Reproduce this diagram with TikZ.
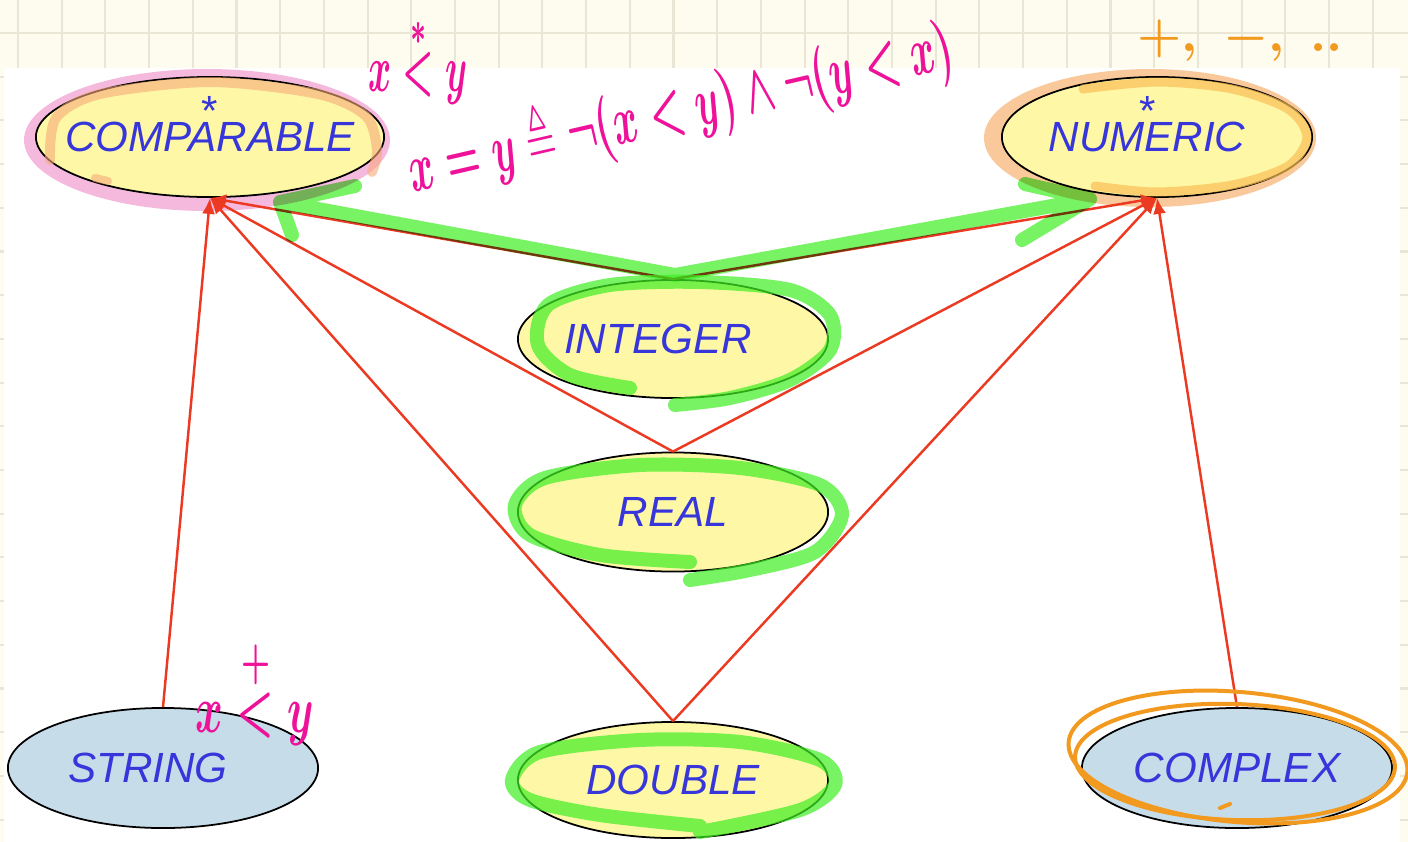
\documentclass[tikz,border=0pt]{standalone}
\usepackage{fontspec}
\usepackage{amssymb}
\usepackage{graphicx}
\usetikzlibrary{arrows.meta,positioning,shapes.geometric}
\newfontfamily\slidefont{Liberation Sans}

\definecolor{paper}{HTML}{FEFCEF}
\definecolor{gridline}{HTML}{E9E6D6}
\definecolor{slideyellow}{HTML}{FEF8A6}
\definecolor{slideblue}{HTML}{C6DCE9}
\definecolor{typeblue}{HTML}{3636DA}
\definecolor{arrowred}{HTML}{EC3A22}
\definecolor{inkpink}{HTML}{EE1199}
\definecolor{inkorange}{HTML}{F29A1F}
\definecolor{markgreen}{HTML}{3EEE22}
\definecolor{pinkhalo}{HTML}{F6B9DE}
\definecolor{salmon}{HTML}{F6A97A}
\definecolor{peachhalo}{HTML}{F9C99C}
\definecolor{deeporange}{HTML}{FBBE55}

\begin{document}
\begin{tikzpicture}[
x=0.01cm, y=-0.01cm,
typebox/.style={
ellipse,
draw=black,
line width=0.5pt,
inner xsep=-0.6cm,
inner ysep=0pt,
minimum width=3.1cm,
minimum height=1.18cm,
text=typeblue,
font=\slidefont\itshape\fontsize{12}{14}\selectfont
},
deferred/.style={typebox, fill=slideyellow},
effective/.style={typebox, fill=slideblue},
starmark/.style={inner sep=0pt, text=typeblue, font=\slidefont\fontsize{12}{14}\selectfont},
isa/.style={-{Latex[length=1.6mm, width=1.3mm]}, draw=arrowred, line width=0.7pt},
hilite/.style={draw=markgreen, draw opacity=0.7, line width=0.14cm, line cap=round, line join=round},
pinkink/.style={text=inkpink, inner sep=0pt},
orangeink/.style={text=inkorange, inner sep=0pt, font=\boldmath\fontsize{15}{18}\selectfont},
orangering/.style={draw=inkorange, line width=0.04cm}
]

\useasboundingbox (0,0) rectangle (1408,842);
\fill[paper] (0,0) rectangle (1408,842);
\foreach \gx in {0,...,31} \draw[gridline, line width=0.6pt] ({18+43.7*\gx},0) -- ++(0,842);
\foreach \gy in {0,...,18} \draw[gridline, line width=0.6pt] (0,{33+43.7*\gy}) -- ++(1408,0);
\fill[white] (4,68) rectangle (1400,842);

\fill[pinkhalo] (207,140) ellipse [x radius=183, y radius=71];
\fill[peachhalo] (1150,138) ellipse [x radius=166, y radius=69];

\node[deferred, minimum width=3.48cm, minimum height=1.2cm] (cmp) at (210,137) {COMPARABLE};
\node[deferred, minimum height=1.2cm] (num) at (1157,137) {\hspace*{-0.2cm}NUMERIC};
\node[deferred] (int) at (673,339) {\hspace*{-0.3cm}INTEGER};
\node[deferred, minimum height=1.19cm] (real) at (673,512) {REAL};
\node[deferred, minimum height=1.16cm] (dbl) at (673,780) {DOUBLE};
\node[effective, minimum height=1.2cm] (str) at (163,768) {\hspace*{-0.3cm}STRING};
\node[effective, minimum height=1.2cm] (cpx) at (1237,768) {COMPLEX};

\node[starmark, anchor=north, yshift=0.41cm] (cmpstar) at (cmp.center) {*};
\node[starmark, anchor=north, yshift=0.41cm, xshift=-0.09cm] (numstar) at (num.center) {*};

\draw[salmon, draw opacity=0.6, line width=0.1cm, line cap=round]
  plot[smooth] coordinates {(50,160) (56,118) (100,94) (210,82) (318,94) (366,116) (377,150) (372,172)};
\draw[salmon, draw opacity=0.6, line width=0.08cm, line cap=round] (95,178) -- (108,181);
\draw[deeporange, draw opacity=0.7, line width=0.09cm, line cap=round]
  plot[smooth] coordinates {(1083,89) (1157,82) (1232,89) (1288,109) (1307,137) (1288,166) (1232,185) (1157,192) (1095,186)};

\draw[isa] (str.north) -- (cmp.south);
\foreach \src in {int,real,dbl} {
  \draw[isa] (\src.north) -- (cmp.south);
  \draw[isa] (\src.north) -- (num.south);
}
\draw[isa] (cpx.north) -- (num.south);

\draw[hilite, blend mode=multiply] (292,235) -- (280,202) -- (355,186) (280,202) -- (675,275) -- (1090,199) -- (1025,184) (1090,199) -- (1022,240);
\draw[hilite] plot[smooth] coordinates {(630,388) (570,375) (538,345) (548,305) (610,285) (700,282) (790,290) (830,315) (830,350) (790,380) (730,398) (675,405)};
\draw[hilite] plot[smooth] coordinates {(690,562) (600,555) (530,535) (515,505) (545,478) (640,465) (740,468) (820,485) (842,515) (815,552) (750,570) (690,580)};
\draw[hilite] plot[smooth] coordinates {(700,826) (600,815) (530,800) (512,780) (540,752) (640,740) (740,742) (820,760) (835,785) (800,810) (700,832)};

\draw[orangering, rotate around={-5:(1238,757)}] (1238,757) ellipse [x radius=170, y radius=65];
\draw[orangering, rotate around={-2:(1235,762)}] (1235,762) ellipse [x radius=160, y radius=58];
\draw[orangering, line cap=round] (1220,808) -- (1230,804);

\node[pinkink, font=\boldmath\fontsize{10}{12}\selectfont] (lexord) at (418,60) {\scalebox{1}[1.9]{$x \stackrel{\raisebox{-0.5ex}{$\scriptstyle *$}}{<} y$}};
\node[pinkink, font=\boldmath\fontsize{10.7}{13}\selectfont, rotate=13] (eqdef) at (680,108) {\scalebox{1}[1.8]{$x = y \triangleq \neg(x<y) \wedge \neg(y<x)$}};
\node[pinkink, font=\boldmath\fontsize{12.5}{15}\selectfont] (strord) at (255,692) {\scalebox{1}[1.6]{$x \stackrel{\raisebox{-0.4ex}{$\scriptstyle +$}}{<} y$}};
\node[orangeink] (numops) at (1240,40) {$+,\ -,\ ..$};

\end{tikzpicture}
\end{document}
